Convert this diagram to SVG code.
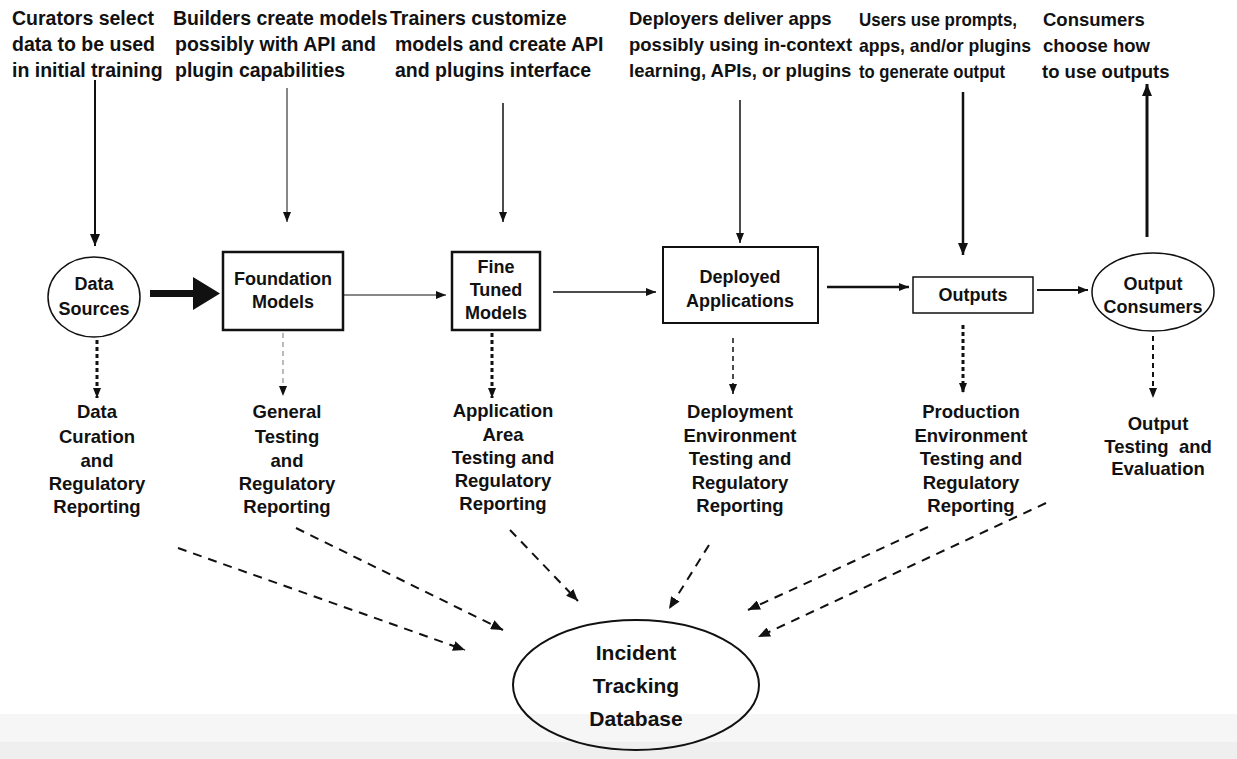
<svg xmlns="http://www.w3.org/2000/svg" width="1237" height="759" viewBox="0 0 1237 759">
  <style>
    .role { font-family: "Liberation Sans", Arial, sans-serif; font-weight: bold; font-size: 19.5px; fill: #111; }
    .role-m { font-size: 18.5px; }
    .role-s { font-size: 18.5px; }
    .node { font-family: "Liberation Sans", Arial, sans-serif; font-weight: bold; font-size: 18px; fill: #111; text-anchor: middle; }
    .lbl { font-family: "Liberation Sans", Arial, sans-serif; font-weight: bold; font-size: 18.5px; fill: #111; text-anchor: middle; }
    .db { font-family: "Liberation Sans", Arial, sans-serif; font-weight: bold; font-size: 21px; fill: #111; text-anchor: middle; }
    .box { fill: #fff; stroke: #111; }
    .ln { fill: none; stroke: #111; }
    .toDb { fill: none; stroke: #111; stroke-width: 2; stroke-dasharray: 9 7; }
  </style>
  <defs>
    <marker id="ahS" viewBox="0 0 10 8" refX="10" refY="4" markerWidth="10" markerHeight="8" markerUnits="userSpaceOnUse" orient="auto">
      <path d="M0,0 L10,4 L0,8 z" fill="#111"/>
    </marker>
    <marker id="ahM" viewBox="0 0 12 10" refX="12" refY="5" markerWidth="12" markerHeight="10" markerUnits="userSpaceOnUse" orient="auto">
      <path d="M0,0 L12,5 L0,10 z" fill="#111"/>
    </marker>
  </defs>

  <rect x="0" y="0" width="1237" height="759" fill="#fff"/>
  <!-- pale strip along the bottom edge -->
  <rect x="0" y="714" width="1237" height="45" fill="#f6f6f6"/>
  <rect x="0" y="742" width="1237" height="17" fill="#efefef"/>

  <!-- role descriptions -->
  <g id="role-curators" class="role">
    <text x="12" y="25">Curators select</text>
    <text x="12" y="51">data to be used</text>
    <text x="12" y="77">in initial training</text>
  </g>
  <g id="role-builders" class="role">
    <text x="173" y="25">Builders create models</text>
    <text x="175" y="51">possibly with API and</text>
    <text x="175" y="77">plugin capabilities</text>
  </g>
  <g id="role-trainers" class="role">
    <text x="390" y="25">Trainers customize</text>
    <text x="395" y="51">models and create API</text>
    <text x="395" y="77">and plugins interface</text>
  </g>
  <g id="role-deployers" class="role role-m">
    <text x="629" y="25">Deployers deliver apps</text>
    <text x="629" y="51">possibly using in-context</text>
    <text x="629" y="77">learning, APIs, or plugins</text>
  </g>
  <g id="role-users" class="role role-s">
    <text x="859" y="26" textLength="158" lengthAdjust="spacingAndGlyphs">Users use prompts,</text>
    <text x="859" y="52" textLength="172" lengthAdjust="spacingAndGlyphs">apps, and/or plugins</text>
    <text x="859" y="78" textLength="146" lengthAdjust="spacingAndGlyphs">to generate output</text>
  </g>
  <g id="role-consumers" class="role role-s">
    <text x="1043" y="26">Consumers</text>
    <text x="1043" y="52">choose how</text>
    <text x="1042" y="78">to use outputs</text>
  </g>

  <!-- pipeline nodes -->
  <g id="data-sources">
    <ellipse cx="94" cy="297" rx="46" ry="40" fill="#fff" stroke="#111" stroke-width="1.5"/>
    <text class="node" x="94" y="290">Data</text>
    <text class="node" x="94" y="315">Sources</text>
  </g>
  <g id="foundation-models">
    <rect class="box" x="223" y="252" width="120" height="78" stroke-width="2.5"/>
    <text class="node" x="283" y="285">Foundation</text>
    <text class="node" x="283" y="308">Models</text>
  </g>
  <g id="fine-tuned-models">
    <rect class="box" x="452" y="252" width="88" height="78" stroke-width="2.5"/>
    <text class="node" x="496" y="273">Fine</text>
    <text class="node" x="496" y="296">Tuned</text>
    <text class="node" x="496" y="319">Models</text>
  </g>
  <g id="deployed-applications">
    <rect class="box" x="663" y="247" width="155" height="76" stroke-width="2"/>
    <text class="node" x="740" y="283">Deployed</text>
    <text class="node" x="740" y="307">Applications</text>
  </g>
  <g id="outputs">
    <rect class="box" x="913" y="277" width="120" height="36" stroke-width="1.5"/>
    <text class="node" x="973" y="301">Outputs</text>
  </g>
  <g id="output-consumers">
    <ellipse cx="1153" cy="292" rx="61" ry="39" fill="#fff" stroke="#111" stroke-width="1.5"/>
    <text class="node" x="1153" y="290">Output</text>
    <text class="node" x="1153" y="313">Consumers</text>
  </g>

  <!-- oversight labels -->
  <g id="label-data-curation" class="lbl">
    <text x="97" y="418">Data</text>
    <text x="97" y="443">Curation</text>
    <text x="97" y="467">and</text>
    <text x="97" y="490">Regulatory</text>
    <text x="97" y="513">Reporting</text>
  </g>
  <g id="label-general-testing" class="lbl">
    <text x="287" y="418">General</text>
    <text x="287" y="443">Testing</text>
    <text x="287" y="467">and</text>
    <text x="287" y="490">Regulatory</text>
    <text x="287" y="513">Reporting</text>
  </g>
  <g id="label-application-area" class="lbl">
    <text x="503" y="417">Application</text>
    <text x="503" y="441">Area</text>
    <text x="503" y="464">Testing and</text>
    <text x="503" y="487">Regulatory</text>
    <text x="503" y="510">Reporting</text>
  </g>
  <g id="label-deployment-env" class="lbl">
    <text x="740" y="418">Deployment</text>
    <text x="740" y="442">Environment</text>
    <text x="740" y="465">Testing and</text>
    <text x="740" y="489">Regulatory</text>
    <text x="740" y="512">Reporting</text>
  </g>
  <g id="label-production-env" class="lbl">
    <text x="971" y="418">Production</text>
    <text x="971" y="442">Environment</text>
    <text x="971" y="465">Testing and</text>
    <text x="971" y="489">Regulatory</text>
    <text x="971" y="512">Reporting</text>
  </g>
  <g id="label-output-testing" class="lbl">
    <text x="1158" y="430">Output</text>
    <text x="1158" y="453" xml:space="preserve">Testing  and</text>
    <text x="1158" y="475">Evaluation</text>
  </g>

  <g id="incident-tracking-database">
    <ellipse cx="636" cy="685" rx="123" ry="65" fill="none" stroke="#111" stroke-width="2"/>
    <text class="db" x="636" y="660">Incident</text>
    <text class="db" x="636" y="693">Tracking</text>
    <text class="db" x="636" y="726">Database</text>
  </g>

  <!-- connectors -->
  <g id="connectors">
    <!-- roles feeding the pipeline -->
    <line class="ln" x1="95" y1="80" x2="95" y2="246" stroke-width="2" marker-end="url(#ahM)"/>
    <line class="ln" x1="287" y1="88" x2="287" y2="222" stroke-width="1" marker-end="url(#ahS)"/>
    <line class="ln" x1="503" y1="103" x2="503" y2="222" stroke-width="1.5" marker-end="url(#ahS)"/>
    <line class="ln" x1="740" y1="100" x2="740" y2="243" stroke-width="1.5" marker-end="url(#ahS)"/>
    <line class="ln" x1="963" y1="92" x2="963" y2="255" stroke-width="2.5" marker-end="url(#ahM)"/>
    <line class="ln" x1="1147" y1="237" x2="1147" y2="84" stroke-width="3" marker-end="url(#ahM)"/>

    <!-- main pipeline -->
    <polygon points="150,290 193,290 193,277 220,293.5 193,310 193,297 150,297" fill="#111"/>
    <line class="ln" x1="343" y1="295" x2="446" y2="295" stroke-width="1" marker-end="url(#ahS)"/>
    <line class="ln" x1="553" y1="292" x2="656" y2="292" stroke-width="1.5" marker-end="url(#ahS)"/>
    <line class="ln" x1="827" y1="287" x2="909" y2="287" stroke-width="2.5" marker-end="url(#ahS)"/>
    <line class="ln" x1="1037" y1="290" x2="1088" y2="290" stroke-width="2" marker-end="url(#ahS)"/>

    <!-- nodes to oversight labels -->
    <line class="ln" x1="97" y1="340" x2="97" y2="398" stroke-width="3" stroke-dasharray="4 3" marker-end="url(#ahS)"/>
    <line x1="283" y1="333" x2="283" y2="396" stroke="#777" stroke-width="1" stroke-dasharray="5 4" marker-end="url(#ahS)"/>
    <line class="ln" x1="492" y1="333" x2="492" y2="398" stroke-width="3" stroke-dasharray="4 3" marker-end="url(#ahS)"/>
    <line class="ln" x1="733" y1="338" x2="733" y2="394" stroke-width="1.5" stroke-dasharray="5 4" marker-end="url(#ahS)"/>
    <line class="ln" x1="963" y1="325" x2="963" y2="393" stroke-width="3" stroke-dasharray="4 3" marker-end="url(#ahS)"/>
    <line class="ln" x1="1153" y1="336" x2="1153" y2="398" stroke-width="2" stroke-dasharray="5 4" marker-end="url(#ahS)"/>

    <!-- oversight labels to the incident database -->
    <line class="toDb" x1="178" y1="548" x2="465" y2="650" marker-end="url(#ahM)"/>
    <line class="toDb" x1="296" y1="528" x2="503" y2="630" marker-end="url(#ahM)"/>
    <line class="toDb" x1="510" y1="530" x2="578" y2="601" marker-end="url(#ahM)"/>
    <line class="toDb" x1="709" y1="545" x2="669" y2="609" marker-end="url(#ahM)"/>
    <line class="toDb" x1="928" y1="527" x2="748" y2="610" marker-end="url(#ahM)"/>
    <line class="toDb" x1="1046" y1="503" x2="758" y2="637" marker-end="url(#ahM)"/>
  </g>
</svg>
